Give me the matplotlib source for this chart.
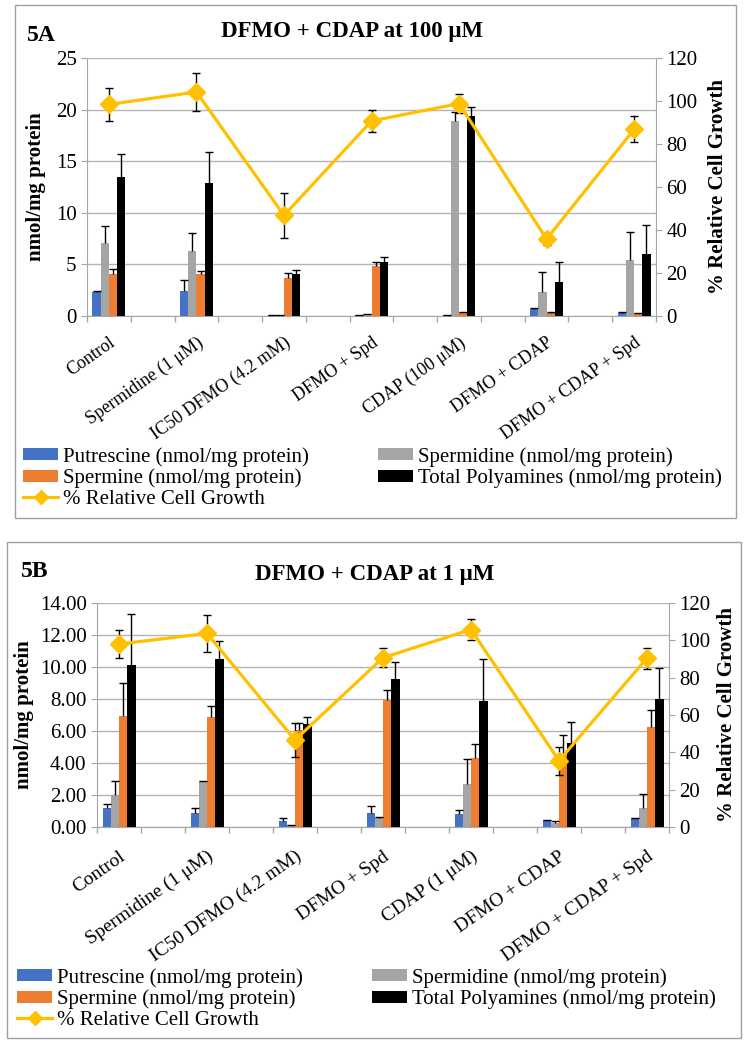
"""
Polyamine levels and relative cell growth, DFMO + CDAP (panels 5A and 5B).
"""

import numpy as np
import matplotlib
matplotlib.use("Agg")
import matplotlib.pyplot as plt
from matplotlib.patches import Rectangle, Patch
from matplotlib.lines import Line2D
from matplotlib.ticker import FormatStrFormatter

plt.rcParams['font.family'] = ['Liberation Serif', 'DejaVu Serif']

# Data
CATS_A = ["Control", "Spermidine (1 μM)", "IC50 DFMO (4.2 mM)", "DFMO + Spd",
          "CDAP (100 μM)", "DFMO + CDAP", "DFMO + CDAP + Spd"]
CATS_B = ["Control", "Spermidine (1 μM)", "IC50 DFMO (4.2 mM)", "DFMO + Spd",
          "CDAP (1 μM)", "DFMO + CDAP", "DFMO + CDAP + Spd"]

SERIES = ["Putrescine (nmol/mg protein)", "Spermidine (nmol/mg protein)",
          "Spermine (nmol/mg protein)", "Total Polyamines (nmol/mg protein)"]
GROWTH_LABEL = "% Relative Cell Growth"

# panel A (CDAP at 100 uM)
put_a = [2.30, 2.46, 0.10, 0.05, 0.05, 0.68, 0.26]
put_a_err = [0.10, 1.00, 0.02, 0.01, 0.02, 0.05, 0.15]
spd_a = [7.10, 6.30, 0.12, 0.15, 18.90, 2.36, 5.44]
spd_a_err = [1.60, 1.70, 0.02, 0.02, 0.90, 1.95, 2.70]
spm_a = [4.10, 4.10, 3.72, 4.88, 0.35, 0.32, 0.30]
spm_a_err = [0.50, 0.30, 0.40, 0.40, 0.05, 0.05, 0.03]
tot_a = [13.50, 12.90, 4.08, 5.20, 19.35, 3.33, 6.00]
tot_a_err = [2.20, 3.00, 0.42, 0.50, 0.95, 1.95, 2.80]
growth_a = [98.4, 104.2, 46.8, 90.7, 98.8, 35.8, 86.8]
growth_a_err = [7.5, 9.0, 10.4, 5.0, 4.4, 2.8, 6.0]

# panel B (CDAP at 1 uM)
put_b = [1.17, 0.85, 0.37, 0.85, 0.84, 0.42, 0.54]
put_b_err = [0.25, 0.35, 0.21, 0.44, 0.22, 0.02, 0.04]
spd_b = [2.00, 2.85, 0.12, 0.54, 2.67, 0.27, 1.17]
spd_b_err = [0.90, 0.03, 0.02, 0.06, 1.56, 0.08, 0.87]
spm_b = [6.96, 6.90, 6.06, 7.96, 4.29, 4.50, 6.27]
spm_b_err = [2.04, 0.65, 0.45, 0.58, 0.91, 1.25, 1.03]
tot_b = [10.10, 10.50, 6.44, 9.23, 7.90, 5.23, 7.98]
tot_b_err = [3.20, 1.10, 0.43, 1.10, 2.60, 1.31, 1.94]
growth_b = [98.0, 103.7, 46.6, 90.7, 105.8, 35.5, 90.5]
growth_b_err = [7.5, 10.0, 9.0, 5.0, 5.6, 7.6, 5.6]

COLORS = ["#4472C4", "#A5A5A5", "#ED7D31", "#000000"]
LINE_COLOR = "#FFC000"
GRID = "#B4B4B4"
AXIS = "#A6A6A6"
FS = 15

W, H = 750, 1046


def fx(px):
    return px / W


def fy(py):
    return 1 - py / H


def plot_panel(fig, rect, cats, bars, errs, growth, growth_err, ymax, ystep, fmt,
               xlabel_fs, xpad):
    ax = fig.add_axes(rect)
    n = len(cats)
    x = np.arange(n) * 2  # every other slot is an empty category
    width = 0.1875
    offsets = (np.arange(4) - 1.5) * width

    ax.set_axisbelow(True)
    for vals, err, off, col in zip(bars, errs, offsets, COLORS):
        ax.bar(x + off, vals, width, color=col, zorder=2)
        eb = ax.errorbar(x + off, vals, yerr=[np.zeros(n), err], fmt='none',
                         ecolor='black', elinewidth=1, capsize=2.9, capthick=1, zorder=3)
        eb[1][0].set_visible(False)

    ax.set_xlim(-0.5, 2 * n - 1.5)
    ax.set_ylim(0, ymax)
    ax.set_yticks(np.arange(0, ymax + ystep / 2, ystep))
    ax.yaxis.set_major_formatter(FormatStrFormatter(fmt))
    ax.yaxis.grid(True, color=GRID, linewidth=1)
    ax.set_xticks(x)
    ax.set_xticklabels(cats, rotation=35, ha='right', rotation_mode='anchor',
                       fontsize=xlabel_fs)
    ax.set_xticks(np.arange(-0.5, 2 * n - 1, 1.0), minor=True)
    ax.tick_params(axis='x', which='major', length=0, pad=xpad)
    ax.tick_params(axis='x', which='minor', length=4.5, color=AXIS, width=1)
    ax.tick_params(axis='y', length=4.5, color=AXIS, labelsize=FS, pad=3)
    for side in ['left', 'bottom']:
        ax.spines[side].set_color(AXIS)
    ax.spines['top'].set_visible(False)
    ax.spines['right'].set_visible(False)

    ax2 = ax.twinx()
    ax2.errorbar(x, growth, yerr=growth_err, fmt='none', ecolor='black',
                 elinewidth=1, capsize=2.9, capthick=1, zorder=3)
    ax2.plot(x, growth, color=LINE_COLOR, linewidth=2.3, marker='D', markersize=9,
             markerfacecolor=LINE_COLOR, markeredgecolor=LINE_COLOR, zorder=4)
    ax2.set_ylim(0, 120)
    ax2.set_yticks(np.arange(0, 121, 20))
    ax2.tick_params(axis='y', length=4.5, color=AXIS, labelsize=FS, pad=3)
    for side in ['left', 'top', 'bottom']:
        ax2.spines[side].set_visible(False)
    ax2.spines['right'].set_color(AXIS)
    return ax, ax2


def add_legends(fig, y_top, left_x, right_x):
    h = {s: Patch(facecolor=c, edgecolor='none') for s, c in zip(SERIES, COLORS)}
    growth_h = Line2D([], [], color=LINE_COLOR, linewidth=2.3, marker='D', markersize=7)
    kw = dict(loc='upper left', frameon=False, fontsize=FS, handlelength=1.7,
              handleheight=0.5, handletextpad=0.2, labelspacing=0.08, borderpad=0,
              borderaxespad=0)
    fig.legend([h[SERIES[0]], h[SERIES[2]], growth_h],
               [SERIES[0], SERIES[2], GROWTH_LABEL],
               bbox_to_anchor=(fx(left_x), fy(y_top)), **kw)
    fig.legend([h[SERIES[1]], h[SERIES[3]]], [SERIES[1], SERIES[3]],
               bbox_to_anchor=(fx(right_x), fy(y_top)), **kw)


def main():
    fig = plt.figure(figsize=(7.5, 10.46), dpi=100)

    # panel frames
    for x0, y0, x1, y1 in [(15, 5, 736, 518), (7, 542, 741, 1038)]:
        fig.patches.append(Rectangle((fx(x0), fy(y1)), fx(x1 - x0), (y1 - y0) / H,
                                     transform=fig.transFigure, fill=False,
                                     edgecolor='#A0A0A0', linewidth=1))

    # 5A
    plot_panel(fig, [fx(87), fy(316), fx(656 - 87), (316 - 58) / H], CATS_A,
               [put_a, spd_a, spm_a, tot_a], [put_a_err, spd_a_err, spm_a_err, tot_a_err],
               growth_a, growth_a_err, 25, 5, '%d', 13, 13)
    fig.text(fx(27), fy(41), "5A", fontsize=17, fontweight='bold', va='baseline')
    fig.text(fx(352), fy(37), "DFMO + CDAP at 100 μM", fontsize=16.5, fontweight='bold',
             ha='center', va='baseline')
    fig.text(fx(36), fy(187), "nmol/mg protein", fontsize=FS, fontweight='bold',
             rotation=90, ha='center', va='center')
    fig.text(fx(718), fy(187), GROWTH_LABEL, fontsize=FS, fontweight='bold',
             rotation=90, ha='center', va='center')
    add_legends(fig, 447, 23, 378)

    # 5B
    plot_panel(fig, [fx(97), fy(827), fx(669 - 97), (827 - 603) / H], CATS_B,
               [put_b, spd_b, spm_b, tot_b], [put_b_err, spd_b_err, spm_b_err, tot_b_err],
               growth_b, growth_b_err, 14, 2, '%.2f', 14, 15)
    fig.text(fx(21), fy(577), "5B", fontsize=17, fontweight='bold', va='baseline')
    fig.text(fx(375), fy(580), "DFMO + CDAP at 1 μM", fontsize=16.5, fontweight='bold',
             ha='center', va='baseline')
    fig.text(fx(24), fy(715), "nmol/mg protein", fontsize=FS, fontweight='bold',
             rotation=90, ha='center', va='center')
    fig.text(fx(727), fy(715), GROWTH_LABEL, fontsize=FS, fontweight='bold',
             rotation=90, ha='center', va='center')
    add_legends(fig, 968, 17, 372)

    fig.savefig("out.png", dpi=100)
    plt.close(fig)


if __name__ == "__main__":
    main()
